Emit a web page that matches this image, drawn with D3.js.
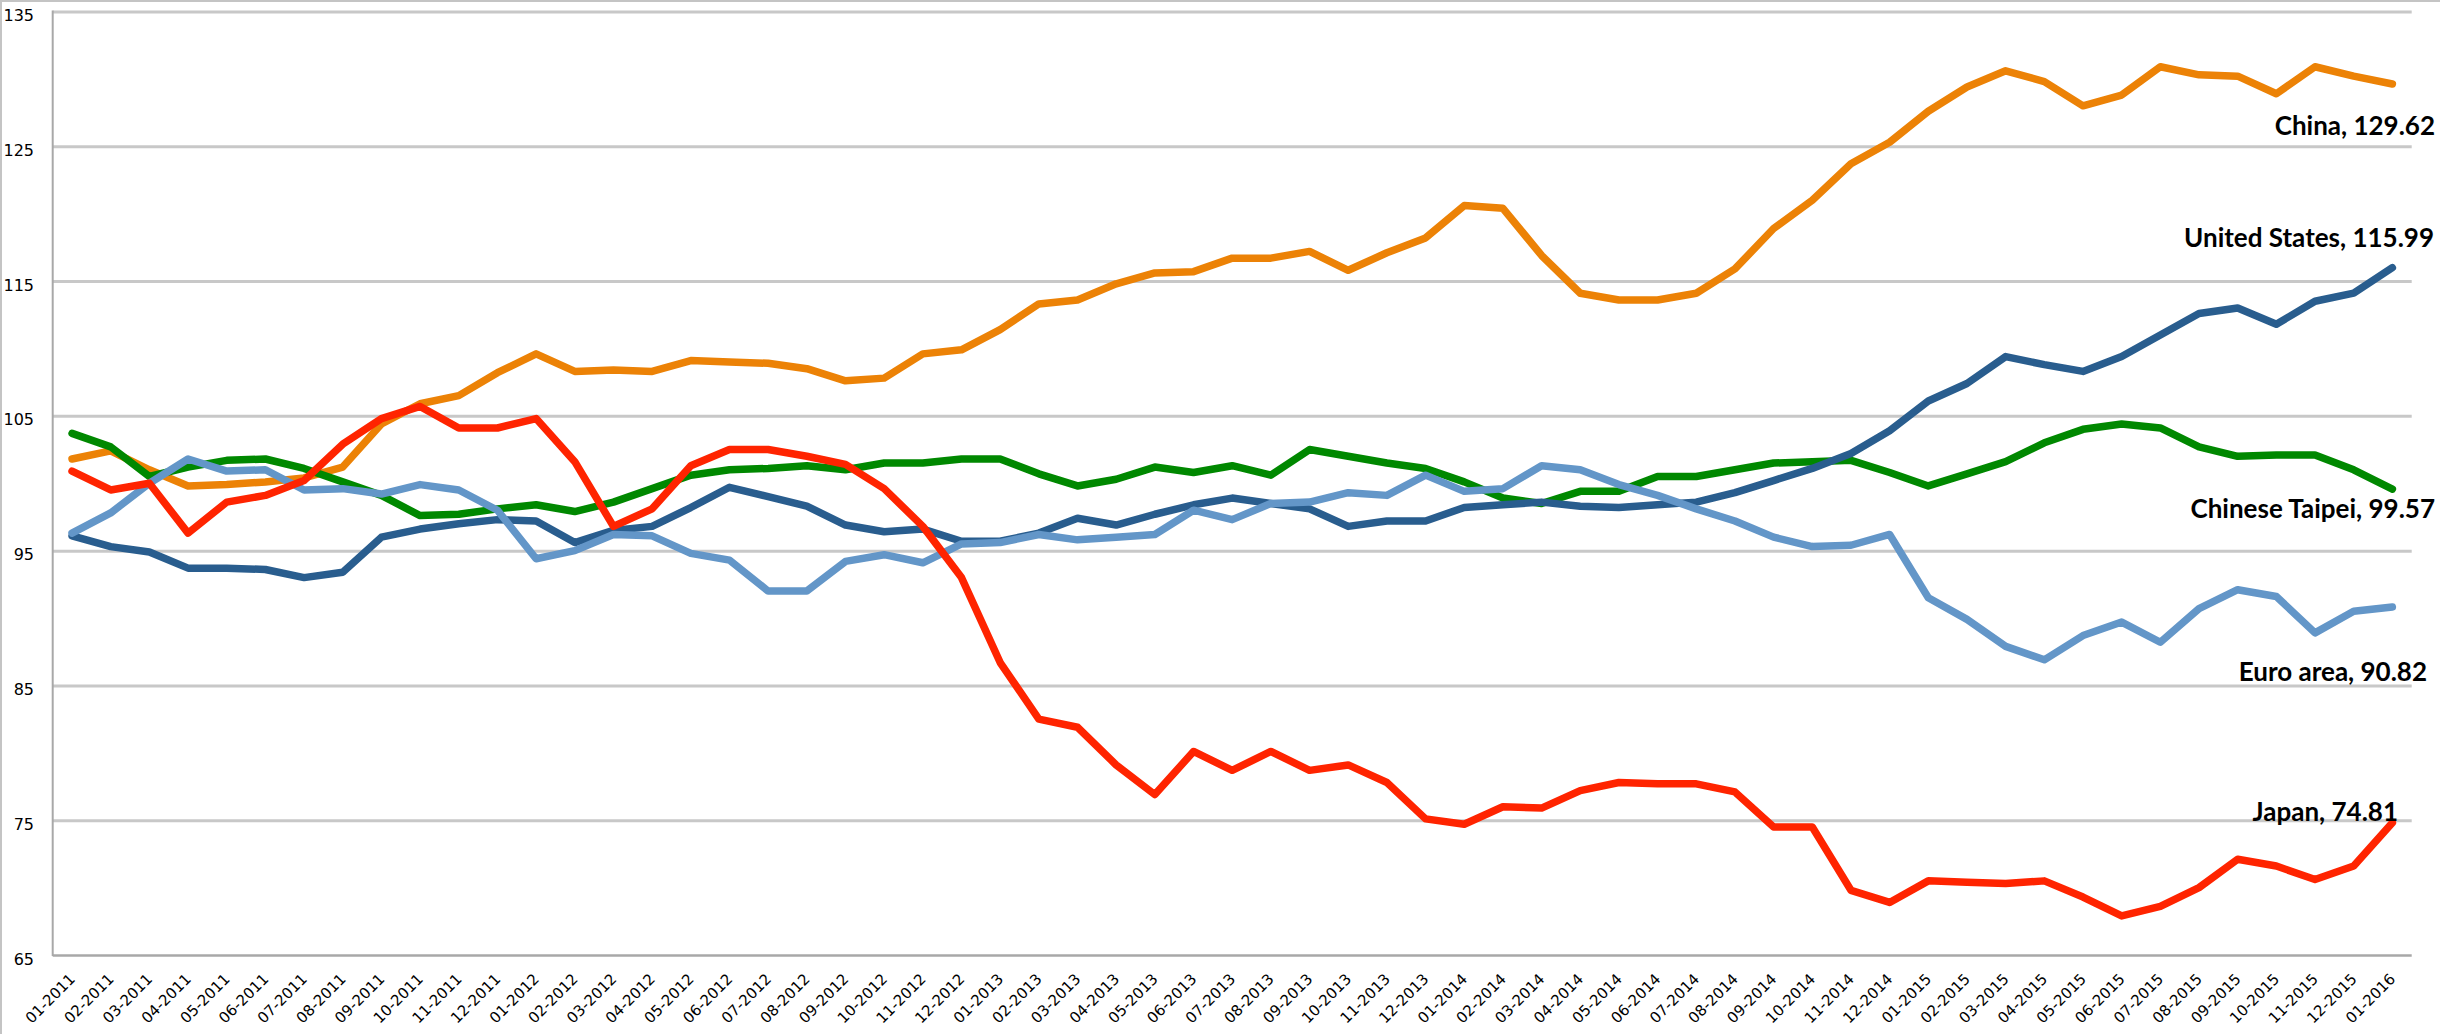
<!DOCTYPE html>
<html>
<head>
<meta charset="utf-8">
<script src="https://cdn.jsdelivr.net/npm/d3@7"></script>
<style>
  html, body { margin: 0; padding: 0; background: #fff; }
  svg { display: block; }
</style>
</head>
<body>
<svg id="chart" width="2440" height="1034"></svg>
<script>
const months = [
  "01-2011","02-2011","03-2011","04-2011","05-2011","06-2011","07-2011","08-2011","09-2011","10-2011","11-2011","12-2011",
  "01-2012","02-2012","03-2012","04-2012","05-2012","06-2012","07-2012","08-2012","09-2012","10-2012","11-2012","12-2012",
  "01-2013","02-2013","03-2013","04-2013","05-2013","06-2013","07-2013","08-2013","09-2013","10-2013","11-2013","12-2013",
  "01-2014","02-2014","03-2014","04-2014","05-2014","06-2014","07-2014","08-2014","09-2014","10-2014","11-2014","12-2014",
  "01-2015","02-2015","03-2015","04-2015","05-2015","06-2015","07-2015","08-2015","09-2015","10-2015","11-2015","12-2015",
  "01-2016"
];

const yTicks = [65, 75, 85, 95, 105, 115, 125, 135];

const china = [
  101.8,102.4,101.0,99.8,99.9,100.1,100.4,101.2,104.4,105.9,106.5,108.2,
  109.6,108.3,108.4,108.3,109.1,109.0,108.9,108.5,107.6,107.8,109.6,109.9,
  111.4,113.3,113.6,114.8,115.6,115.7,116.7,116.7,117.2,115.8,117.1,118.2,
  120.6,120.4,116.9,114.1,113.6,113.6,114.1,115.9,118.9,121.0,123.7,125.3,
  127.6,129.4,130.6,129.8,128.0,128.8,130.9,130.3,130.2,128.9,130.9,130.2,
  129.62
];

const chineseTaipei = [
  103.7,102.7,100.5,101.2,101.7,101.8,101.1,100.1,99.1,97.6,97.7,98.1,
  98.4,97.9,98.6,99.6,100.6,101.0,101.1,101.3,101.0,101.5,101.5,101.8,
  101.8,100.7,99.8,100.3,101.2,100.8,101.3,100.6,102.5,102.0,101.5,101.1,
  100.1,98.9,98.5,99.4,99.4,100.5,100.5,101.0,101.5,101.6,101.7,100.8,
  99.8,100.7,101.6,103.0,104.0,104.4,104.1,102.7,102.0,102.1,102.1,101.0,
  99.57
];

const unitedStates = [
  96.1,95.3,94.9,93.7,93.7,93.6,93.0,93.4,96.0,96.6,97.0,97.3,
  97.2,95.6,96.5,96.8,98.2,99.7,99.0,98.3,96.9,96.4,96.6,95.7,
  95.7,96.3,97.4,96.9,97.7,98.4,98.9,98.5,98.1,96.8,97.2,97.2,
  98.2,98.4,98.6,98.3,98.2,98.4,98.6,99.3,100.2,101.1,102.2,103.9,
  106.1,107.4,109.4,108.8,108.3,109.4,111.0,112.6,113.0,111.8,113.5,114.1,
  115.99
];

const euroArea = [
  96.3,97.8,100.0,101.8,100.9,101.0,99.5,99.6,99.2,99.9,99.5,98.0,
  94.4,95.0,96.2,96.1,94.8,94.3,92.0,92.0,94.2,94.7,94.1,95.5,
  95.6,96.2,95.8,96.0,96.2,98.0,97.3,98.5,98.6,99.3,99.1,100.6,
  99.4,99.6,101.3,101.0,99.9,99.1,98.1,97.2,96.0,95.3,95.4,96.2,
  91.5,89.9,87.9,86.9,88.7,89.7,88.2,90.7,92.1,91.6,88.9,90.5,
  90.82
];

const japan = [
  100.9,99.5,100.0,96.3,98.6,99.1,100.2,102.9,104.8,105.7,104.1,104.1,
  104.8,101.6,96.8,98.1,101.3,102.5,102.5,102.0,101.4,99.6,96.8,93.0,
  86.7,82.5,81.9,79.1,76.9,80.1,78.7,80.1,78.7,79.1,77.8,75.1,
  74.7,76.0,75.9,77.2,77.8,77.7,77.7,77.1,74.5,74.5,69.8,68.9,
  70.5,70.4,70.3,70.5,69.3,67.9,68.6,70.0,72.1,71.6,70.6,71.6,
  74.81
];

// drawing order: bottom to top
const seriesNames  = ["China", "Chinese Taipei", "United States", "Euro area", "Japan"];
const seriesValues = [china, chineseTaipei, unitedStates, euroArea, japan];
const seriesColors = ["#EC8206", "#008800", "#295D8E", "#6396C8", "#FF2400"];

// end-label placement (right edge x, baseline y)
const labelPos = {
  "China":          [2435, 135],
  "United States":  [2434, 247],
  "Chinese Taipei": [2435, 518],
  "Euro area":      [2427, 681],
  "Japan":          [2398, 821]
};

const svg = d3.select("#chart");
const plotLeft = 52.7, plotRight = 2411.7, plotTop = 11.5, plotBottom = 955;

const x = d3.scaleBand().domain(months).range([plotLeft, plotRight]).paddingInner(0).paddingOuter(0);
const y = d3.scaleLinear().domain([65, 135]).range([plotBottom, plotTop]);
const cx = d => x(d) + x.bandwidth() / 2;

// outer frame (top + left)
svg.append("line").attr("x1", 0).attr("x2", 2440).attr("y1", 1).attr("y2", 1)
  .attr("stroke", "#C4C4C4").attr("stroke-width", 2);
svg.append("line").attr("x1", 1).attr("x2", 1).attr("y1", 0).attr("y2", 1034)
  .attr("stroke", "#C4C4C4").attr("stroke-width", 2);

// y axis with gridlines
const yAxis = d3.axisLeft(y)
  .tickValues(yTicks)
  .tickSizeInner(-(plotRight - plotLeft))
  .tickSizeOuter(0)
  .tickPadding(18.7)
  .tickFormat(d3.format("d"));

const gy = svg.append("g").attr("transform", `translate(${plotLeft},0)`).call(yAxis);
gy.select(".domain").remove();
gy.selectAll(".tick line")
  .attr("stroke", d => d === 65 ? "#A8A8A8" : "#C8C8C8")
  .attr("stroke-width", d => d === 65 ? 2.3 : 3);
gy.selectAll(".tick text")
  .attr("dy", null)
  .attr("y", 9)
  .attr("fill", "#000")
  .style("font-family", "'DejaVu Sans', Verdana, sans-serif")
  .style("font-size", "16px");

// left axis line
svg.append("line")
  .attr("x1", plotLeft).attr("x2", plotLeft)
  .attr("y1", plotTop - 1).attr("y2", plotBottom + 1)
  .attr("stroke", "#A8A8A8").attr("stroke-width", 2);

// x axis labels
const xAxis = d3.axisBottom(x).tickSize(0).tickPadding(0);
const gx = svg.append("g").attr("transform", `translate(0,${plotBottom})`).call(xAxis);
gx.select(".domain").remove();
gx.selectAll(".tick text")
  .attr("y", 0).attr("x", 0).attr("dy", null)
  .attr("transform", "translate(4,25) rotate(-45)")
  .attr("text-anchor", "end")
  .attr("fill", "#000")
  .style("font-family", "'DejaVu Sans', Verdana, sans-serif")
  .style("font-size", "15px");

// lines
const line = d3.line()
  .x((d, i) => cx(months[i]))
  .y(d => y(d));

const gLines = svg.append("g");
seriesValues.forEach((vals, k) => {
  gLines.append("path")
    .datum(vals)
    .attr("d", line)
    .attr("fill", "none")
    .attr("stroke", seriesColors[k])
    .attr("stroke-width", 7.5)
    .attr("stroke-linejoin", "round")
    .attr("stroke-linecap", "round");
});

// end labels
const gLab = svg.append("g");
seriesNames.forEach((name, k) => {
  const vals = seriesValues[k];
  const last = vals[vals.length - 1];
  const p = labelPos[name];
  gLab.append("text")
    .attr("x", p[0]).attr("y", p[1])
    .attr("text-anchor", "end")
    .attr("fill", "#000")
    .style("font-family", "Lato, 'Liberation Sans', sans-serif")
    .style("font-weight", "bold")
    .style("font-size", "26px")
    .text(`${name}, ${d3.format(".2f")(last)}`);
});
</script>
</body>
</html>
